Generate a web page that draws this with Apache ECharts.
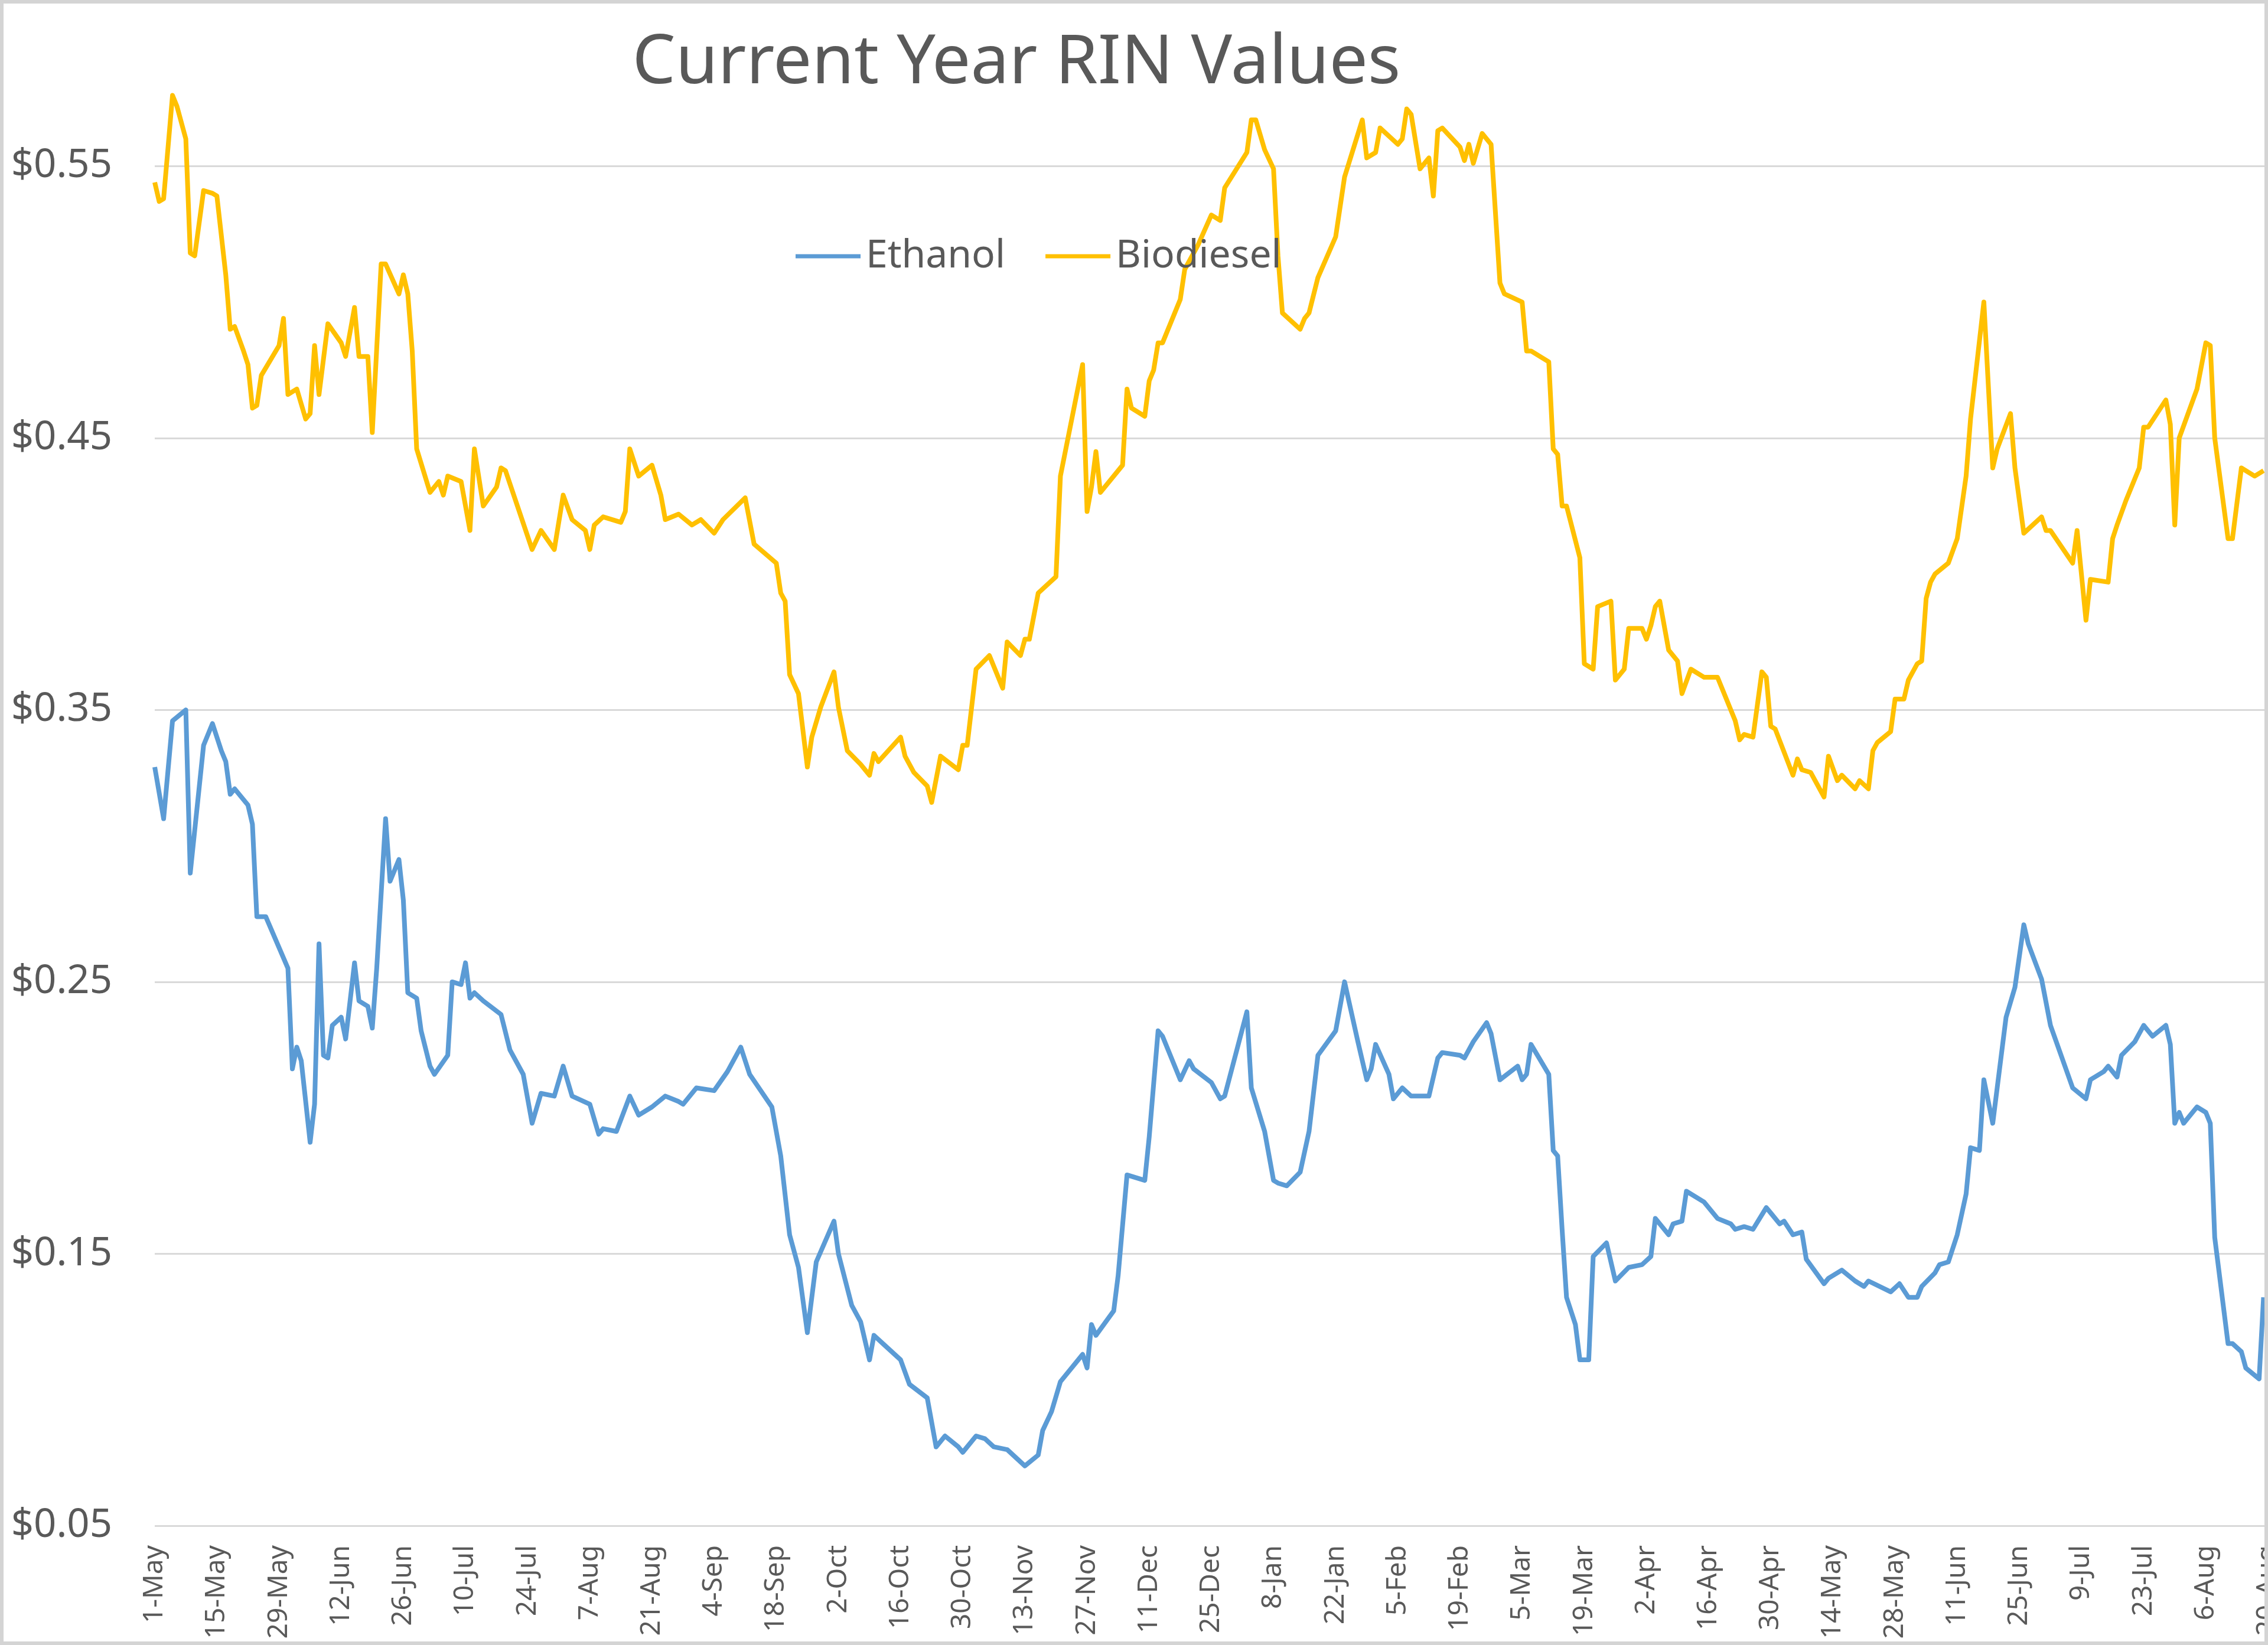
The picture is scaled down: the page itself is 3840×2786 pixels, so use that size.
<!DOCTYPE html>
<html><head><meta charset="utf-8">
<script src="https://cdn.jsdelivr.net/npm/echarts@6/dist/echarts.min.js"></script>
<style>html,body{margin:0;padding:0;background:#fff}#c{width:3840px;height:2786px}</style>
</head><body><div id="c"></div>
<script>
const chartTitle = 'Current Year RIN Values';
const seriesNames = ['Ethanol', 'Biodiesel'];
const monthNames = ['Jan','Feb','Mar','Apr','May','Jun','Jul','Aug','Sep','Oct','Nov','Dec'];
const axisStart = '2018-05-01';
const axisEnd = '2019-08-20';
const yMin = 0.05, yMax = 0.60, yStep = 0.10;

const ethanolDates = [
'2018-05-01','2018-05-03','2018-05-05','2018-05-08','2018-05-09','2018-05-12','2018-05-14','2018-05-16','2018-05-17','2018-05-18','2018-05-19','2018-05-22','2018-05-23','2018-05-24','2018-05-26','2018-05-31',
'2018-06-01','2018-06-02','2018-06-03','2018-06-05','2018-06-06','2018-06-07','2018-06-08','2018-06-09','2018-06-10','2018-06-12','2018-06-13','2018-06-15','2018-06-16','2018-06-18','2018-06-19','2018-06-20','2018-06-22','2018-06-23','2018-06-25','2018-06-26','2018-06-27','2018-06-29','2018-06-30',
'2018-07-02','2018-07-03','2018-07-06','2018-07-07','2018-07-09','2018-07-10','2018-07-11','2018-07-12','2018-07-14','2018-07-18','2018-07-20','2018-07-23','2018-07-25','2018-07-27','2018-07-30',
'2018-08-01','2018-08-03','2018-08-07','2018-08-09','2018-08-10','2018-08-13','2018-08-16','2018-08-18','2018-08-21','2018-08-24','2018-08-27','2018-08-28','2018-08-31',
'2018-09-04','2018-09-07','2018-09-10','2018-09-12','2018-09-17','2018-09-19','2018-09-21','2018-09-23','2018-09-25','2018-09-27',
'2018-10-01','2018-10-02','2018-10-05','2018-10-07','2018-10-09','2018-10-10','2018-10-12','2018-10-16','2018-10-18','2018-10-22','2018-10-24','2018-10-26','2018-10-29','2018-10-30',
'2018-11-02','2018-11-04','2018-11-06','2018-11-09','2018-11-13','2018-11-16','2018-11-17','2018-11-19','2018-11-21','2018-11-26','2018-11-27','2018-11-28','2018-11-29',
'2018-12-03','2018-12-04','2018-12-06','2018-12-10','2018-12-11','2018-12-13','2018-12-14','2018-12-18','2018-12-20','2018-12-21','2018-12-25','2018-12-27','2018-12-28',
'2019-01-02','2019-01-03','2019-01-06','2019-01-08','2019-01-09','2019-01-11','2019-01-14','2019-01-16','2019-01-18','2019-01-22','2019-01-24','2019-01-27','2019-01-29','2019-01-30','2019-01-31',
'2019-02-03','2019-02-04','2019-02-06','2019-02-08','2019-02-12','2019-02-14','2019-02-15','2019-02-19','2019-02-20','2019-02-22','2019-02-25','2019-02-26','2019-02-28',
'2019-03-04','2019-03-05','2019-03-06','2019-03-07','2019-03-11','2019-03-12','2019-03-13','2019-03-14','2019-03-15','2019-03-17','2019-03-18','2019-03-20','2019-03-21','2019-03-24','2019-03-26','2019-03-29',
'2019-04-01','2019-04-03','2019-04-04','2019-04-07','2019-04-08','2019-04-10','2019-04-11','2019-04-15','2019-04-18','2019-04-21','2019-04-22','2019-04-24','2019-04-26','2019-04-29','2019-04-30',
'2019-05-02','2019-05-03','2019-05-05','2019-05-07','2019-05-08','2019-05-12','2019-05-13','2019-05-16','2019-05-19','2019-05-21','2019-05-22','2019-05-27','2019-05-29','2019-05-31',
'2019-06-02','2019-06-03','2019-06-06','2019-06-07','2019-06-09','2019-06-11','2019-06-13','2019-06-14','2019-06-16','2019-06-17','2019-06-19','2019-06-20','2019-06-22','2019-06-24','2019-06-26','2019-06-27','2019-06-30',
'2019-07-02','2019-07-07','2019-07-10','2019-07-11','2019-07-14','2019-07-15','2019-07-17','2019-07-18','2019-07-21','2019-07-23','2019-07-25','2019-07-28','2019-07-29','2019-07-30','2019-07-31',
'2019-08-01','2019-08-04','2019-08-06','2019-08-07','2019-08-08','2019-08-11','2019-08-12','2019-08-14','2019-08-15','2019-08-18','2019-08-19'
];
const ethanolValues = [
0.329,0.310,0.346,0.350,0.290,0.337,0.345,0.335,0.331,0.319,0.321,0.315,0.308,0.274,0.274,0.255,
0.218,0.226,0.221,0.191,0.205,0.264,0.223,0.222,0.234,0.237,0.229,0.257,0.243,0.241,0.233,0.255,0.310,0.287,0.295,0.280,0.246,0.244,0.232,
0.219,0.216,0.223,0.250,0.249,0.257,0.244,0.246,0.243,0.238,0.225,0.216,0.198,0.209,0.208,
0.219,0.208,0.205,0.194,0.196,0.195,0.208,0.201,0.204,0.208,0.206,0.205,0.211,
0.210,0.217,0.226,0.216,0.204,0.186,0.157,0.145,0.121,0.147,
0.162,0.150,0.131,0.125,0.111,0.120,0.117,0.111,0.102,0.097,0.079,0.083,0.079,0.077,
0.083,0.082,0.079,0.078,0.072,0.076,0.085,0.092,0.103,0.113,0.108,0.124,0.120,
0.129,0.142,0.179,0.177,0.193,0.232,0.230,0.214,0.221,0.218,0.213,0.207,0.208,
0.239,0.211,0.195,0.177,0.176,0.175,0.180,0.195,0.223,0.232,0.250,0.228,0.214,0.218,0.227,
0.216,0.207,0.211,0.208,0.208,0.222,0.224,0.223,0.222,0.228,0.235,0.231,0.214,
0.219,0.214,0.216,0.227,0.216,0.188,0.186,0.159,0.134,0.124,0.111,0.111,0.149,0.154,0.140,0.145,
0.146,0.149,0.163,0.157,0.161,0.162,0.173,0.169,0.163,0.161,0.159,0.160,0.159,0.167,0.165,
0.161,0.162,0.157,0.158,0.148,0.139,0.141,0.144,0.140,0.138,0.140,0.136,0.139,0.134,
0.134,0.138,0.143,0.146,0.147,0.157,0.172,0.189,0.188,0.214,0.198,0.211,0.237,0.248,0.271,0.264,0.251,
0.234,0.211,0.207,0.214,0.217,0.219,0.215,0.223,0.228,0.234,0.230,0.234,0.227,0.198,0.202,
0.198,0.204,0.202,0.198,0.156,0.117,0.117,0.114,0.108,0.104,0.134
];

const biodieselDates = [
'2018-05-01','2018-05-02','2018-05-03','2018-05-05','2018-05-06','2018-05-08','2018-05-09','2018-05-10','2018-05-12','2018-05-14','2018-05-15','2018-05-17','2018-05-18','2018-05-19','2018-05-21','2018-05-22','2018-05-23','2018-05-24','2018-05-25','2018-05-29','2018-05-30','2018-05-31',
'2018-06-02','2018-06-04','2018-06-05','2018-06-06','2018-06-07','2018-06-09','2018-06-12','2018-06-13','2018-06-15','2018-06-16','2018-06-18','2018-06-19','2018-06-21','2018-06-22','2018-06-25','2018-06-26','2018-06-27','2018-06-28','2018-06-29',
'2018-07-02','2018-07-04','2018-07-05','2018-07-06','2018-07-09','2018-07-11','2018-07-12','2018-07-14','2018-07-17','2018-07-18','2018-07-19','2018-07-25','2018-07-27','2018-07-30',
'2018-08-01','2018-08-03','2018-08-06','2018-08-07','2018-08-08','2018-08-10','2018-08-14','2018-08-15','2018-08-16','2018-08-18','2018-08-21','2018-08-23','2018-08-24','2018-08-27','2018-08-30',
'2018-09-01','2018-09-04','2018-09-06','2018-09-11','2018-09-13','2018-09-18','2018-09-19','2018-09-20','2018-09-21','2018-09-23','2018-09-25','2018-09-26','2018-09-28',
'2018-10-01','2018-10-02','2018-10-04','2018-10-07','2018-10-09','2018-10-10','2018-10-11','2018-10-16','2018-10-17','2018-10-19','2018-10-22','2018-10-23','2018-10-25','2018-10-29','2018-10-30','2018-10-31',
'2018-11-02','2018-11-05','2018-11-08','2018-11-09','2018-11-12','2018-11-13','2018-11-14','2018-11-16','2018-11-20','2018-11-21','2018-11-26','2018-11-27','2018-11-28','2018-11-29','2018-11-30',
'2018-12-05','2018-12-06','2018-12-07','2018-12-10','2018-12-11','2018-12-12','2018-12-13','2018-12-14','2018-12-18','2018-12-19','2018-12-22','2018-12-25','2018-12-27','2018-12-28',
'2019-01-02','2019-01-03','2019-01-04','2019-01-06','2019-01-08','2019-01-09','2019-01-10','2019-01-14','2019-01-15','2019-01-16','2019-01-18','2019-01-22','2019-01-24','2019-01-28','2019-01-29','2019-01-31',
'2019-02-01','2019-02-05','2019-02-06','2019-02-07','2019-02-08','2019-02-10','2019-02-12','2019-02-13','2019-02-14','2019-02-15','2019-02-19','2019-02-20','2019-02-21','2019-02-22','2019-02-24','2019-02-26','2019-02-28',
'2019-03-01','2019-03-05','2019-03-06','2019-03-07','2019-03-11','2019-03-12','2019-03-13','2019-03-14','2019-03-15','2019-03-18','2019-03-19','2019-03-21','2019-03-22','2019-03-25','2019-03-26','2019-03-28','2019-03-29',
'2019-04-01','2019-04-02','2019-04-03','2019-04-04','2019-04-05','2019-04-07','2019-04-09','2019-04-10','2019-04-12','2019-04-15','2019-04-18','2019-04-22','2019-04-23','2019-04-24','2019-04-26','2019-04-28','2019-04-29','2019-04-30',
'2019-05-01','2019-05-05','2019-05-06','2019-05-07','2019-05-09','2019-05-12','2019-05-13','2019-05-15','2019-05-16','2019-05-19','2019-05-20','2019-05-22','2019-05-23','2019-05-24','2019-05-27','2019-05-28','2019-05-30','2019-05-31',
'2019-06-02','2019-06-03','2019-06-04','2019-06-05','2019-06-06','2019-06-09','2019-06-11','2019-06-13','2019-06-14','2019-06-17','2019-06-19','2019-06-20','2019-06-23','2019-06-24','2019-06-26','2019-06-30',
'2019-07-01','2019-07-02','2019-07-07','2019-07-08','2019-07-10','2019-07-11','2019-07-15','2019-07-16','2019-07-17','2019-07-19','2019-07-22','2019-07-23','2019-07-24','2019-07-28','2019-07-29','2019-07-30','2019-07-31',
'2019-08-04','2019-08-06','2019-08-07','2019-08-08','2019-08-11','2019-08-12','2019-08-14','2019-08-17','2019-08-19'
];
const biodieselValues = [
0.544,0.537,0.538,0.576,0.572,0.560,0.518,0.517,0.541,0.540,0.539,0.510,0.490,0.491,0.482,0.477,0.461,0.462,0.473,0.484,0.494,0.466,
0.468,0.457,0.459,0.484,0.466,0.492,0.485,0.480,0.498,0.480,0.480,0.452,0.514,0.514,0.503,0.510,0.503,0.482,0.446,
0.430,0.434,0.429,0.436,0.434,0.416,0.446,0.425,0.432,0.439,0.438,0.409,0.416,0.409,
0.429,0.420,0.416,0.409,0.418,0.421,0.419,0.423,0.446,0.436,0.440,0.429,0.420,0.422,0.418,
0.420,0.415,0.420,0.428,0.411,0.404,0.393,0.390,0.363,0.356,0.329,0.340,0.351,
0.364,0.351,0.335,0.330,0.326,0.334,0.331,0.340,0.333,0.327,0.322,0.316,0.333,0.328,0.337,0.337,
0.365,0.370,0.358,0.375,0.370,0.376,0.376,0.393,0.399,0.436,0.477,0.423,0.432,0.445,0.430,
0.440,0.468,0.461,0.458,0.471,0.475,0.485,0.485,0.501,0.512,0.521,0.532,0.530,0.542,
0.555,0.567,0.567,0.556,0.549,0.517,0.496,0.490,0.494,0.496,0.509,0.524,0.546,0.567,0.553,0.555,
0.564,0.558,0.560,0.571,0.569,0.549,0.553,0.539,0.563,0.564,0.557,0.552,0.558,0.551,0.562,0.558,0.507,
0.503,0.500,0.482,0.482,0.478,0.446,0.444,0.425,0.425,0.406,0.367,0.365,0.388,0.390,0.361,0.365,0.380,
0.380,0.376,0.381,0.388,0.390,0.372,0.368,0.356,0.365,0.362,0.362,0.346,0.339,0.341,0.340,0.364,0.362,0.344,
0.343,0.326,0.332,0.328,0.327,0.318,0.333,0.324,0.326,0.321,0.324,0.321,0.335,0.338,0.342,0.354,0.354,0.361,
0.367,0.368,0.391,0.397,0.400,0.404,0.413,0.436,0.457,0.500,0.439,0.446,0.459,0.439,0.415,0.421,
0.416,0.416,0.404,0.416,0.383,0.398,0.397,0.413,0.418,0.427,0.439,0.454,0.454,0.464,0.455,0.418,0.450,
0.468,0.485,0.484,0.450,0.413,0.413,0.439,0.436,0.438
];

function toUTC(s) { const p = s.split('-').map(Number); return Date.UTC(p[0], p[1] - 1, p[2]); }
const DAY = 86400000;
const t0 = toUTC(axisStart);
function dayIndex(s) { return Math.round((toUTC(s) - t0) / DAY); }
function dayLabel(n) { const d = new Date(t0 + Math.round(n) * DAY); return d.getUTCDate() + '-' + monthNames[d.getUTCMonth()]; }

const FONT = '"Noto Sans", "Open Sans", sans-serif';
const TXT = '#595959';

const chart = echarts.init(document.getElementById('c'), null, { renderer: 'canvas' });
chart.setOption({
  backgroundColor: '#ffffff',
  animation: false,
  textStyle: { fontFamily: FONT },
  graphic: [
    { type: 'rect', z: 100, shape: { x: 3, y: 3, width: 3834, height: 2780 }, style: { fill: 'none', stroke: '#D4D4D4', lineWidth: 6 } },
    { type: 'text', z: 50, x: 1721, y: 108, style: { text: chartTitle, fontSize: 116, fontFamily: FONT, fill: TXT, align: 'center', verticalAlign: 'middle' } }
  ],
  legend: {
    data: seriesNames,
    left: 1342, top: 396,
    icon: 'rect', itemWidth: 110, itemHeight: 7, itemGap: 68,
    textStyle: { fontSize: 66, color: TXT, fontFamily: FONT, padding: [0, 0, 0, 4] }
  },
  grid: { left: 262, right: 0, top: 51, bottom: 202, containLabel: false, outerBoundsMode: 'none' },
  xAxis: {
    type: 'value', min: 0, max: dayIndex(axisEnd), interval: 14,
    axisLine: { show: false }, axisTick: { show: false }, splitLine: { show: false },
    axisLabel: { rotate: 90, margin: 33, fontSize: 46, color: TXT, fontFamily: FONT, formatter: dayLabel, showMinLabel: true, showMaxLabel: true, hideOverlap: false }
  },
  yAxis: {
    type: 'value', min: yMin, max: yMax, interval: yStep,
    axisLine: { show: false }, axisTick: { show: false },
    splitLine: { show: true, showMaxLine: false, lineStyle: { color: '#D9D9D9', width: 3 } },
    axisLabel: { fontSize: 67, color: TXT, fontFamily: FONT, margin: 72, showMaxLabel: false, formatter: v => '$' + v.toFixed(2) }
  },
  series: [
    { name: seriesNames[0], type: 'line', showSymbol: false, symbol: 'none',
      data: ethanolDates.map((d, i) => [dayIndex(d), ethanolValues[i]]),
      itemStyle: { color: '#5B9BD5' }, lineStyle: { color: '#5B9BD5', width: 8, join: 'round' } },
    { name: seriesNames[1], type: 'line', showSymbol: false, symbol: 'none',
      data: biodieselDates.map((d, i) => [dayIndex(d), biodieselValues[i]]),
      itemStyle: { color: '#FFC000' }, lineStyle: { color: '#FFC000', width: 8, join: 'round' } }
  ]
});
</script>
</body></html>
